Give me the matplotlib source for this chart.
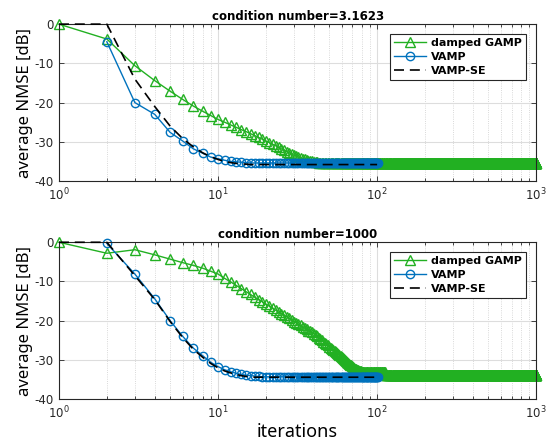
import numpy as np
import matplotlib.pyplot as plt
from matplotlib.ticker import FixedLocator, LogLocator, NullFormatter

plt.rcParams['axes.unicode_minus'] = False
plt.rcParams['mathtext.fontset'] = 'dejavusans'

# ---- data (dB) ----
# condition number = 3.1623
gamp1_head = [0, -3.8, -10.6, -14.4, -17.1, -19.2, -20.9, -22.2, -23.3, -24.3,
              -25.0, -25.7, -26.3, -26.9, -27.4, -27.9, -28.4, -28.9, -29.4, -29.8,
              -30.2, -30.6, -31.0, -31.4, -31.8, -32.1, -32.5, -32.8, -33.1, -33.4,
              -33.6, -33.9, -34.1, -34.3, -34.5, -34.7, -34.8, -34.9, -35.0, -35.1,
              -35.2, -35.2, -35.3, -35.3, -35.3]
gamp1 = gamp1_head + [-35.3] * (1000 - len(gamp1_head))

vamp1_head = [-4.5, -20.0, -23.0, -27.6, -29.8, -31.8, -32.9, -33.9, -34.3, -34.7,
              -35.0, -35.1, -35.2, -35.3]
vamp1 = vamp1_head + [-35.4] * (100 - len(vamp1_head))   # iterations 2..101

se1_head = [0, 0, -14.0, -21.0, -26.0, -29.2, -31.3, -32.8, -33.8, -34.5,
            -35.0, -35.3, -35.5, -35.6, -35.7]
se1 = se1_head + [-35.8] * (100 - len(se1_head))          # iterations 1..100

# condition number = 1000
gamp2_head = [0, -2.8, -1.9, -3.2, -4.3, -5.2, -5.9, -6.6, -7.4, -8.1,
              -9.2, -10.1, -11.0, -11.8, -12.6, -13.3, -14.0, -14.6, -15.2, -15.8,
              -16.3, -16.8, -17.3, -17.8, -18.2, -18.6, -19.0, -19.4, -19.8, -20.2,
              -20.5, -20.9, -21.2, -21.5, -21.9, -22.2, -22.5, -22.7, -23.0, -23.3,
              -23.7, -24.0, -24.4, -24.7, -25.0, -25.4, -25.7, -26.0, -26.3, -26.6,
              -26.9, -27.2, -27.5, -27.7, -28.0, -28.3, -28.5, -28.8, -29.0, -29.3,
              -29.5, -29.8, -30.0, -30.3, -30.5, -30.7, -31.0, -31.2, -31.4, -31.6,
              -31.8, -32.0, -32.2, -32.3, -32.5, -32.6, -32.7, -32.8, -32.9, -33.0]
gamp2_bump = [-33.1] * 32
gamp2 = gamp2_head + gamp2_bump + [-33.9] * (1000 - len(gamp2_head) - len(gamp2_bump))

vamp2_head = [-0.3, -8.1, -14.4, -20.0, -24.0, -27.0, -28.9, -30.6, -31.7, -32.5,
              -33.0, -33.4, -33.7, -33.9, -34.0, -34.1, -34.2]
vamp2 = vamp2_head + [-34.3] * (100 - len(vamp2_head))

se2_head = [0, 0, -8.5, -14.6, -20.2, -24.3, -27.3, -29.3, -30.9, -32.0,
            -32.8, -33.3, -33.7, -34.0, -34.2, -34.3]
se2 = se2_head + [-34.4] * (100 - len(se2_head))

titles = ['condition number=3.1623', 'condition number=1000']
labels = ['damped GAMP', 'VAMP', 'VAMP-SE']
yticks = [-40, -30, -20, -10, 0]
xticks = [1, 10, 100, 1000]
xticklabels = [r'$10^{0}$', r'$10^{1}$', r'$10^{2}$', r'$10^{3}$']

green = '#22B022'
blue = '#0072BD'

fig = plt.figure(figsize=(5.46, 4.47), dpi=100)
ax1 = fig.add_axes([0.108, 0.595, 0.874, 0.351])
ax2 = fig.add_axes([0.108, 0.107, 0.874, 0.351])

sets = [(ax1, gamp1, vamp1, se1), (ax2, gamp2, vamp2, se2)]
for i, (ax, g, v, s) in enumerate(sets):
    ax.plot(np.arange(1, len(g) + 1), g, '-^', color=green, lw=1.0, ms=7,
            mfc='none', mew=1.0, label=labels[0], clip_on=False)
    ax.plot(np.arange(2, len(v) + 2), v, '-o', color=blue, lw=1.0, ms=6,
            mfc='none', mew=1.0, label=labels[1], clip_on=False)
    ax.plot(np.arange(1, len(s) + 1), s, '--', color='k', lw=1.2,
            dashes=(6, 3.5), label=labels[2], clip_on=False, zorder=3)
    ax.set_xscale('log')
    ax.set_xlim(1, 1000)
    ax.set_ylim(-40, 0)
    ax.set_xticks(xticks)
    ax.set_xticklabels(xticklabels)
    ax.xaxis.set_minor_locator(LogLocator(base=10, subs=np.arange(2, 10)))
    ax.xaxis.set_minor_formatter(NullFormatter())
    ax.yaxis.set_major_locator(FixedLocator(yticks))
    ax.set_yticklabels([str(t) for t in yticks])
    ax.tick_params(which='both', direction='in', top=True, right=True,
                   labelsize=8.5, colors='#262626', width=0.6)
    ax.tick_params(which='major', length=3.5, pad=4)
    ax.tick_params(which='minor', length=2)
    ax.grid(True, which='major', color='#dddddd', lw=0.8)
    ax.grid(True, which='minor', axis='x', color='#cccccc', lw=0.6, ls=':')
    ax.set_axisbelow(True)
    for sp in ax.spines.values():
        sp.set_color('#262626')
        sp.set_linewidth(0.8)
    ax.set_title(titles[i], fontsize=8.5, fontweight='bold', pad=3)
    ax.set_ylabel('average NMSE [dB]', fontsize=12, family='Noto Sans', labelpad=1)
    leg = ax.legend(loc='upper right', prop={'weight': 'bold', 'size': 8},
                    handlelength=2.9, borderaxespad=0.9, fancybox=False,
                    edgecolor='#262626', framealpha=1, labelspacing=0.35,
                    handletextpad=0.5, borderpad=0.35)
    leg.get_frame().set_linewidth(0.8)
    leg.set_zorder(5)

ax2.set_xlabel('iterations', fontsize=13, family='Noto Sans', labelpad=1)

plt.savefig('out.png')
